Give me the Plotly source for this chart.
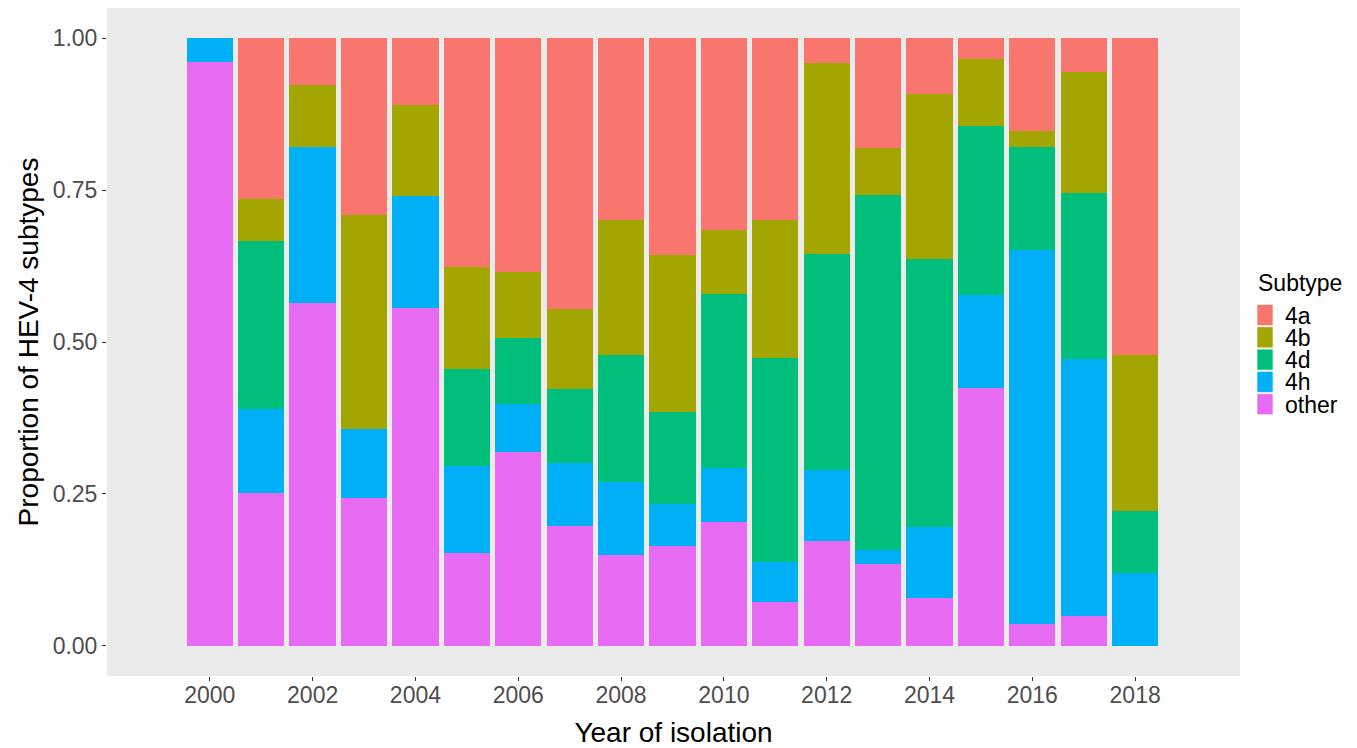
import plotly.graph_objects as go

years = list(range(2000, 2019))
subtypes = ["other", "4h", "4d", "4b", "4a"]
legend_order = ["4a", "4b", "4d", "4h", "other"]

other = [0.961, 0.251, 0.565, 0.243, 0.556, 0.153, 0.319, 0.197, 0.150, 0.164,
         0.204, 0.072, 0.172, 0.135, 0.078, 0.424, 0.036, 0.048, 0.000]
h4 = [0.039, 0.138, 0.256, 0.113, 0.184, 0.143, 0.079, 0.103, 0.120, 0.070,
      0.089, 0.066, 0.118, 0.022, 0.117, 0.153, 0.616, 0.424, 0.119]
d4 = [0.000, 0.278, 0.000, 0.000, 0.000, 0.160, 0.109, 0.122, 0.209, 0.150,
      0.286, 0.335, 0.355, 0.585, 0.442, 0.279, 0.169, 0.274, 0.102]
b4 = [0.000, 0.069, 0.103, 0.353, 0.150, 0.168, 0.109, 0.132, 0.222, 0.259,
      0.106, 0.228, 0.315, 0.078, 0.272, 0.110, 0.027, 0.198, 0.257]
a4 = [0.000, 0.264, 0.076, 0.291, 0.110, 0.376, 0.384, 0.446, 0.299, 0.357,
      0.315, 0.299, 0.040, 0.180, 0.091, 0.034, 0.152, 0.056, 0.522]

values = {"other": other, "4h": h4, "4d": d4, "4b": b4, "4a": a4}
colors = {"4a": "#F8766D", "4b": "#A3A500", "4d": "#00BF7D", "4h": "#00B0F6", "other": "#E76BF3"}

x_ticks = list(range(2000, 2019, 2))
y_ticks = [0, 0.25, 0.5, 0.75, 1.0]
y_ticklabels = ["0.00", "0.25", "0.50", "0.75", "1.00"]

# figure geometry (page has an 8px body margin)
W, H = 1349, 740
ML, MR, MT, MB = 99, 117, 0, 72
PW, PH = W - ML - MR, H - MT - MB


def px(xpage):
    return (xpage - 8 - ML) / PW


def py(ypage):
    return (H - MB - (ypage - 8)) / PH


fig = go.Figure()
for s in subtypes:
    fig.add_trace(go.Bar(x=years, y=values[s], name=s, showlegend=False,
                         marker=dict(color=colors[s], line=dict(width=0))))

font = "Liberation Sans, Arial, sans-serif"

# manual legend (ggplot-style compact keys)
shapes = []
annotations = [dict(text="Subtype", x=px(1256), y=py(283), xref="paper", yref="paper",
                    xanchor="left", yanchor="middle", showarrow=False,
                    font=dict(size=23, color="black", family=font))]
for i, s in enumerate(legend_order):
    top = 304.5 + i * 22.3
    shapes.append(dict(type="rect", xref="paper", yref="paper",
                       x0=px(1257), x1=px(1273), y0=py(top + 21), y1=py(top),
                       fillcolor=colors[s], line=dict(width=0.6, color="white")))
    annotations.append(dict(text=s, x=px(1284), y=py(top + 10.5), xref="paper", yref="paper",
                            xanchor="left", yanchor="middle", showarrow=False,
                            height=21, borderpad=0,
                            font=dict(size=23, color="black", family=font)))

fig.update_layout(
    barmode="stack",
    bargap=0.1,
    width=W, height=H,
    margin=dict(l=ML, r=MR, t=MT, b=MB, autoexpand=False),
    paper_bgcolor="white",
    plot_bgcolor="#EBEBEB",
    font=dict(family=font, color="black"),
    showlegend=False,
    shapes=shapes,
    annotations=annotations,
    xaxis=dict(
        range=[1998, 2020.04],
        tickvals=x_ticks,
        ticks="outside", ticklen=4, tickcolor="#333333",
        ticklabelstandoff=-6,
        tickfont=dict(size=23, color="#4D4D4D"),
        showgrid=False, zeroline=False, automargin=False,
        title=dict(text="Year of isolation", font=dict(size=28, color="black"), standoff=15),
    ),
    yaxis=dict(
        range=[-0.05, 1.05],
        tickvals=y_ticks, ticktext=y_ticklabels,
        ticks="outside", ticklen=4, tickcolor="#333333",
        tickfont=dict(size=23, color="#4D4D4D"),
        showgrid=False, zeroline=False, automargin=False,
        title=dict(text="Proportion of HEV-4 subtypes", font=dict(size=28, color="black"), standoff=5),
    ),
)

fig.write_html("out.html")
